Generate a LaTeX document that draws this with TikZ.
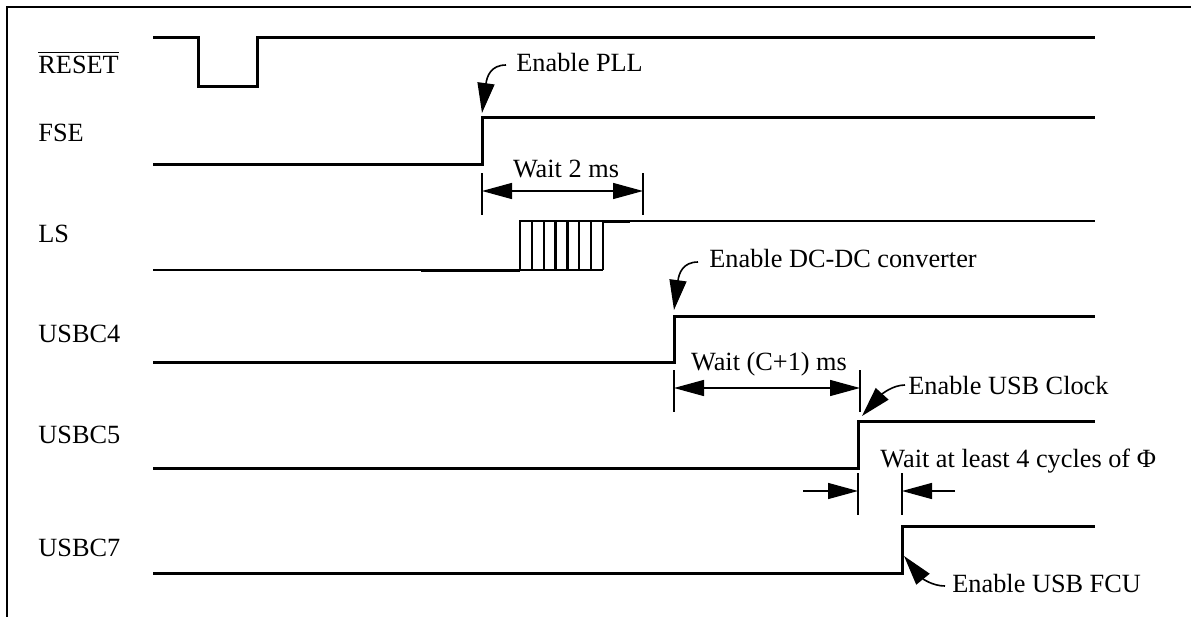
\documentclass[tikz,border=0pt]{standalone}
\usepackage{fontspec}
\setmainfont{Liberation Serif}
\usetikzlibrary{arrows.meta}

\tikzset{
  sig/.style={line width=1.5pt},
  lsline/.style={line width=1.1pt},
  dim/.style={line width=0.7pt},
  dimarrow/.style={line width=0.7pt, {Triangle[length=15pt,width=8pt]}-{Triangle[length=15pt,width=8pt]}},
  onearrow/.style={line width=0.7pt, -{Triangle[length=15pt,width=8pt]}},
  callout/.style={line width=0.8pt, -{Triangle[length=15pt,width=8.5pt]}},
  lbl/.style={anchor=base west, inner sep=0pt, font=\fontsize{13.15}{15}\selectfont},
  ctr/.style={anchor=base, inner sep=0pt, font=\fontsize{13.15}{15}\selectfont}
}

\begin{document}
\begin{tikzpicture}[x=0.5pt,y=-0.5pt]
\useasboundingbox (0,0) rectangle (1191,617);
\draw [line width=1pt] (1191,7) -- (7,7) -- (7,617);
\node (lreset) at (38,73) [lbl] {$\overline{\mbox{RESET}}$};
\node (lfse) at (38,141) [lbl] {FSE};
\node (lls) at (38,242) [lbl] {LS};
\node (lusbcfour) at (38,342) [lbl] {USBC4};
\node (lusbcfive) at (38,443) [lbl] {USBC5};
\node (lusbcseven) at (38,556) [lbl] {USBC7};
\draw [sig] (153,37) -- (198,37) -- (198,86) -- (257,86) -- (257,37) -- (1095,37);
\draw [sig] (153,164) -- (482,164) -- (482,117) -- (1095,117);
\draw [lsline] (153,270) -- (603,270);
\draw [sig] (421,270) -- (520,270);
\draw [lsline] (520,270) -- (520,221) -- (1095,221);
\draw [sig] (603,221) -- (630,221);
\foreach \k in {1,...,7}
  \draw [lsline] ({520+\k*11.857},221) -- ({520+\k*11.857},270);
\draw [sig] (153,362) -- (674,362) -- (674,316) -- (1095,316);
\draw [sig] (153,468) -- (858,468) -- (858,421) -- (1095,421);
\draw [sig] (153,573) -- (902,573) -- (902,526) -- (1095,526);
\draw [dim] (482,173) -- (482,215);
\draw [dim] (643,173) -- (643,215);
\coordinate (wtwoa) at (482,191);
\coordinate (wtwob) at (643,191);
\draw [dimarrow] (wtwoa) -- (wtwob);
\node (txtwtwo) at (566,177) [ctr] {Wait 2 ms};
\draw [dim] (674,370) -- (674,412);
\draw [dim] (860,370) -- (860,412);
\coordinate (wca) at (674,388);
\coordinate (wcb) at (860,388);
\draw [dimarrow] (wca) -- (wcb);
\node (txtwc) at (769,370) [ctr] {Wait (C+1) ms};
\draw [dim] (858,473) -- (858,515);
\draw [dim] (902,473) -- (902,515);
\coordinate (cyla) at (803,491);
\coordinate (cylb) at (858,491);
\coordinate (cylc) at (955,491);
\coordinate (cyld) at (902,491);
\draw [onearrow] (cyla) -- (cylb);
\draw [onearrow] (cylc) -- (cyld);
\node (txtcyl) at (880,467) [lbl] {Wait at least 4 cycles of Φ};
\node (txtpll) at (516,71) [lbl] {Enable PLL};
\coordinate (pllfrom) at (506,65);
\coordinate (pllto) at (482,113);
\draw [callout] (pllfrom) .. controls (491,65) and (487,76) .. (pllto);
\node (txtdcdc) at (709,267) [lbl] {Enable DC-DC converter};
\coordinate (dcdcfrom) at (698,262);
\coordinate (dcdcto) at (674,310);
\draw [callout] (dcdcfrom) .. controls (683,262) and (679,273) .. (dcdcto);
\node (txtclk) at (908,394) [lbl] {Enable USB Clock};
\coordinate (clkfrom) at (905,385);
\coordinate (clkto) at (862,416);
\draw [callout] (clkfrom) .. controls (893,385) and (882,394) .. (clkto);
\node (txtfcu) at (952,592) [lbl] {Enable USB FCU};
\coordinate (fcufrom) at (945,586);
\coordinate (fcuto) at (904,556);
\draw [callout] (fcufrom) .. controls (932,586) and (922,578) .. (fcuto);
\end{tikzpicture}
\end{document}
